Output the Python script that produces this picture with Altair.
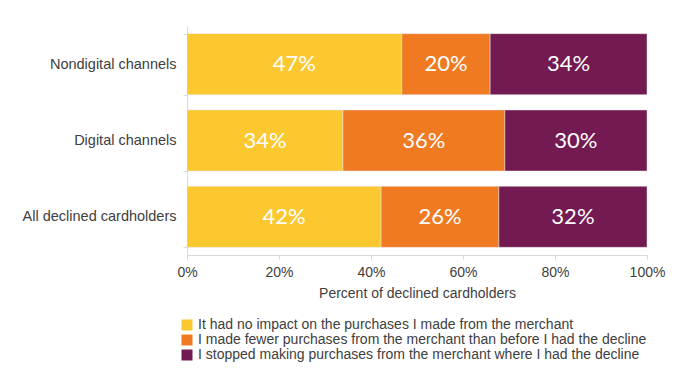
import altair as alt
import pandas as pd

groups = ["Nondigital channels", "Digital channels", "All declined cardholders"]
responses = [
    "It had no impact on the purchases I made from the merchant",
    "I made fewer purchases from the merchant than before I had the decline",
    "I stopped making purchases from the merchant where I had the decline",
]
no_impact = [46.7, 33.9, 42.2]
fewer = [19.2, 35.2, 25.6]
stopped = [34.1, 30.9, 32.2]
label_no_impact = ["47%", "34%", "42%"]
label_fewer = ["20%", "36%", "26%"]
label_stopped = ["34%", "30%", "32%"]
colors = ["#FBC82F", "#F07A22", "#731A52"]

rows = []
for i, g in enumerate(groups):
    for k, (vals, labs) in enumerate([(no_impact, label_no_impact),
                                       (fewer, label_fewer),
                                       (stopped, label_stopped)]):
        rows.append({"group": g, "response": responses[k], "order": k,
                     "value": vals[i], "label": labs[i]})
df = pd.DataFrame(rows)

base = alt.Chart(df).encode(
    y=alt.Y("group:N", sort=groups, title=None,
            scale=alt.Scale(paddingInner=0.2, paddingOuter=0.1),
            axis=alt.Axis(tickBand="extent", tickSize=4, labelPadding=7,
                          domainColor="#D9D9D9", tickColor="#D9D9D9",
                          labelFont="Liberation Sans", labelFontSize=14.5,
                          labelColor="#404040")),
    x=alt.X("value:Q", stack="zero", title="Percent of declined cardholders",
            scale=alt.Scale(domain=[0, 100], nice=False),
            axis=alt.Axis(values=[0, 20, 40, 60, 80, 100],
                          labelExpr="datum.value + '%'", grid=False,
                          labelFlush=False, labelOverlap=False,
                          tickSize=4, labelPadding=6, titlePadding=7,
                          domainColor="#D9D9D9", tickColor="#D9D9D9",
                          labelFont="Liberation Sans", labelFontSize=14,
                          labelColor="#404040", titleFont="Liberation Sans",
                          titleFontSize=14, titleFontWeight="normal",
                          titleColor="#404040")),
    order=alt.Order("order:Q"),
)

bars = base.mark_bar(stroke="#E6E6E6", strokeWidth=0.5).encode(
    color=alt.Color("response:N", sort=responses,
                    scale=alt.Scale(domain=responses, range=colors),
                    legend=alt.Legend(title=None, orient="none", legendX=-7,
                                      legendY=292, symbolType="square",
                                      symbolSize=121, symbolStrokeWidth=0,
                                      labelFont="Liberation Sans",
                                      labelFontSize=14, labelColor="#404040",
                                      labelOffset=4, rowPadding=1, padding=0,
                                      labelLimit=600))
)

text = base.mark_text(color="white", font="Lato", fontSize=22).encode(
    x=alt.X("mid:Q"),
    text="label:N",
).transform_stack(
    stack="value", groupby=["group"], as_=["x0", "x1"],
    sort=[alt.SortField("order", "ascending")]
).transform_calculate(mid="(datum.x0 + datum.x1) / 2")

chart = alt.layer(bars, text).properties(
    width=460, height=229,
    autosize=alt.AutoSizeParams(type="none"),
    padding={"left": 179, "top": 18, "right": 36, "bottom": 110},
).configure_view(stroke=None)

chart.save("out.html", embed_options={"renderer": "svg", "actions": False})
